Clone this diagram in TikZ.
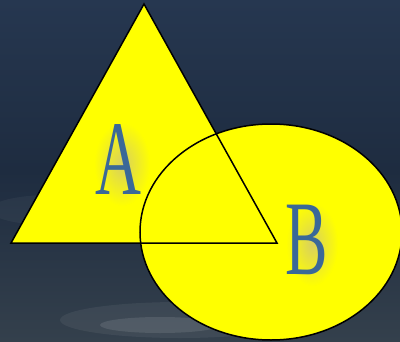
\documentclass[tikz,border=0pt]{standalone}
\usepackage{fontspec}
\setmainfont{Liberation Serif}
\usetikzlibrary{shapes.geometric}
\definecolor{bgtop}{HTML}{263750}
\definecolor{bgmid}{HTML}{1E2C40}
\definecolor{bgbot}{HTML}{34404C}
\definecolor{shapey}{HTML}{FFFF00}
\definecolor{lblue}{HTML}{3A6898}
\definecolor{glow}{HTML}{D8D060}
\tikzset{
  shapefill/.style={fill=shapey},
  shapeline/.style={draw=black, line width=1.5pt, line join=miter},
  lbl/.style={font=\fontsize{106}{106}\selectfont, text=lblue, inner sep=0pt},
  glowspot/.style={inner color=glow, outer color=shapey},
}
\begin{document}
\begin{tikzpicture}[x=1pt,y=-1pt]
\useasboundingbox (0,0) rectangle (400,341);
% background
\shade[top color=bgtop, bottom color=bgbot, middle color=bgmid] (0,0) rectangle (400,341);
\fill[white, opacity=0.06] (180,320) ellipse (120 and 18);
\fill[white, opacity=0.10] (160,325) ellipse (60 and 8);
\fill[white, opacity=0.04] (50,210) ellipse (60 and 15);
% coordinates
\coordinate (apex) at (144,4);
\coordinate (bl) at (11,243);
\coordinate (br) at (277,243);
\coordinate (ec) at (271,232);
% fills
\fill[shapefill] (apex) -- (bl) -- (br) -- cycle;
\fill[shapefill] (ec) ellipse (131 and 108);
% soft glow behind letters
\shade[glowspot] (122,164) ellipse (28 and 42);
\shade[glowspot] (312,244) ellipse (26 and 42);
% outlines
\draw[shapeline] (apex) -- (bl) -- (br) -- cycle;
\draw[shapeline] (ec) ellipse (131 and 108);
% labels
\node[lbl] (A) at (118,160) {\scalebox{0.6}[1]{A}};
\node[lbl] (B) at (307,240) {\scalebox{0.6}[1]{B}};
\end{tikzpicture}
\end{document}
